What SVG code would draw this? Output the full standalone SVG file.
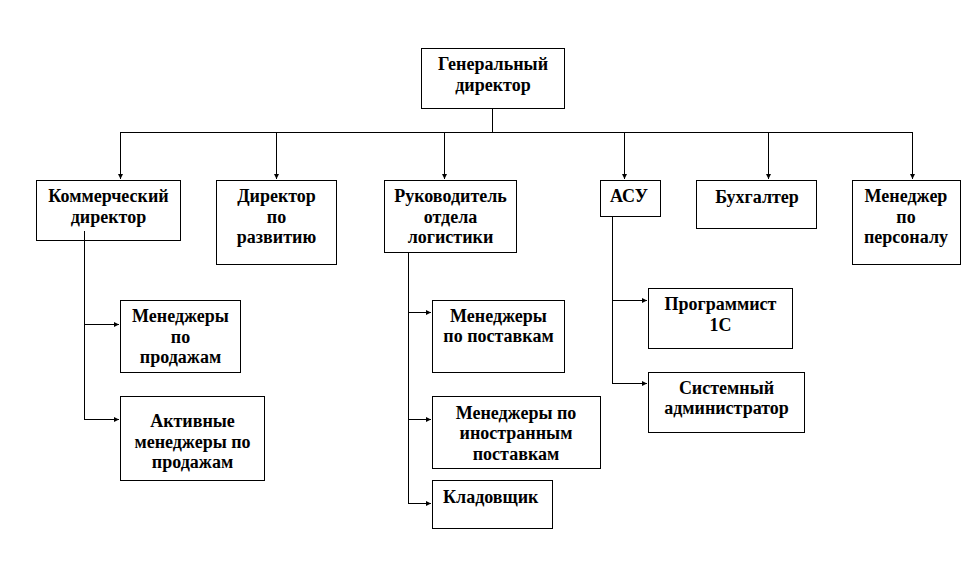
<svg xmlns="http://www.w3.org/2000/svg" width="963" height="576" viewBox="0 0 963 576">
<style>
.box{fill:none;stroke:#000;stroke-width:1}
.t{font-family:"Liberation Serif","Times New Roman",serif;font-weight:bold;font-size:18px;text-anchor:middle;fill:#000}
.ln{fill:none;stroke:#000;stroke-width:1}
.ar{marker-end:url(#ah)}
</style>
<defs>
<marker id="ah" markerWidth="6" markerHeight="6" refX="5" refY="2.5" orient="auto" markerUnits="userSpaceOnUse"><path d="M0,0 L5,2.5 L0,5 z" fill="#000"/></marker>
</defs>
<rect width="963" height="576" fill="#fff"/>
<g id="connectors">
<path class="ln" d="M492.5 108 V132.5 M120.5 132.5 H912.5"/>
<path class="ln ar" d="M120.5 132 V179"/>
<path class="ln ar" d="M276.5 132 V179"/>
<path class="ln ar" d="M444.5 132 V179"/>
<path class="ln ar" d="M624.5 132 V179"/>
<path class="ln ar" d="M768.5 132 V179"/>
<path class="ln ar" d="M912.5 132 V179"/>
<path class="ln" d="M84.5 231 V420"/>
<path class="ln ar" d="M84 324.5 H119"/>
<path class="ln ar" d="M84 419.5 H119"/>
<path class="ln" d="M408.5 252 V504"/>
<path class="ln ar" d="M408 312.5 H431"/>
<path class="ln ar" d="M408 419.5 H431"/>
<path class="ln ar" d="M408 503.5 H431"/>
<path class="ln" d="M612.5 216 V384"/>
<path class="ln ar" d="M612 300.5 H647"/>
<path class="ln ar" d="M612 383.5 H647"/>
</g>
<g id="gen-director"><rect class="box" x="421.5" y="48.5" width="143" height="60"/><text class="t" x="493" y="70">Генеральный</text><text class="t" x="493" y="90.5">директор</text></g>
<g id="comm-director"><rect class="box" x="36.5" y="180.5" width="144" height="60"/><text class="t" x="108.5" y="202">Коммерческий</text><text class="t" x="108.5" y="222.5">директор</text></g>
<g id="dev-director"><rect class="box" x="216.5" y="180.5" width="120" height="84"/><text class="t" x="276.5" y="202">Директор</text><text class="t" x="276.5" y="222.5">по</text><text class="t" x="276.5" y="243">развитию</text></g>
<g id="logistics-head"><rect class="box" x="384.5" y="180.5" width="132" height="72"/><text class="t" x="450.5" y="202">Руководитель</text><text class="t" x="450.5" y="222.5">отдела</text><text class="t" x="450.5" y="243">логистики</text></g>
<g id="asu"><rect class="box" x="600.5" y="180.5" width="60" height="36"/><text class="t" x="629" y="202">АСУ</text></g>
<g id="accountant"><rect class="box" x="696.5" y="180.5" width="120" height="48"/><text class="t" x="757" y="202.5">Бухгалтер</text></g>
<g id="hr-manager"><rect class="box" x="852.5" y="180.5" width="108" height="84"/><text class="t" x="906" y="202">Менеджер</text><text class="t" x="906" y="222.5">по</text><text class="t" x="906" y="243">персоналу</text></g>
<g id="sales-managers"><rect class="box" x="120.5" y="300.5" width="120" height="72"/><text class="t" x="180.5" y="322">Менеджеры</text><text class="t" x="180.5" y="342.5">по</text><text class="t" x="180.5" y="363">продажам</text></g>
<g id="active-sales-managers"><rect class="box" x="120.5" y="396.5" width="144" height="84"/><text class="t" x="192.5" y="427">Активные</text><text class="t" x="192.5" y="447.5">менеджеры по</text><text class="t" x="192.5" y="468">продажам</text></g>
<g id="supply-managers"><rect class="box" x="432.5" y="300.5" width="132" height="72"/><text class="t" x="498.5" y="321.5">Менеджеры</text><text class="t" x="498.5" y="342">по поставкам</text></g>
<g id="foreign-supply-managers"><rect class="box" x="432.5" y="396.5" width="168" height="72"/><text class="t" x="516" y="418.5">Менеджеры по</text><text class="t" x="516" y="439">иностранным</text><text class="t" x="516" y="460">поставкам</text></g>
<g id="storekeeper"><rect class="box" x="432.5" y="480.5" width="120" height="48"/><text class="t" x="443" y="503" style="text-anchor:start">Кладовщик</text></g>
<g id="programmer-1c"><rect class="box" x="648.5" y="288.5" width="144" height="60"/><text class="t" x="720.5" y="310">Программист</text><text class="t" x="720.5" y="330.5">1С</text></g>
<g id="sysadmin"><rect class="box" x="648.5" y="372.5" width="156" height="60"/><text class="t" x="726.5" y="393.5">Системный</text><text class="t" x="726.5" y="414">администратор</text></g>
</svg>
